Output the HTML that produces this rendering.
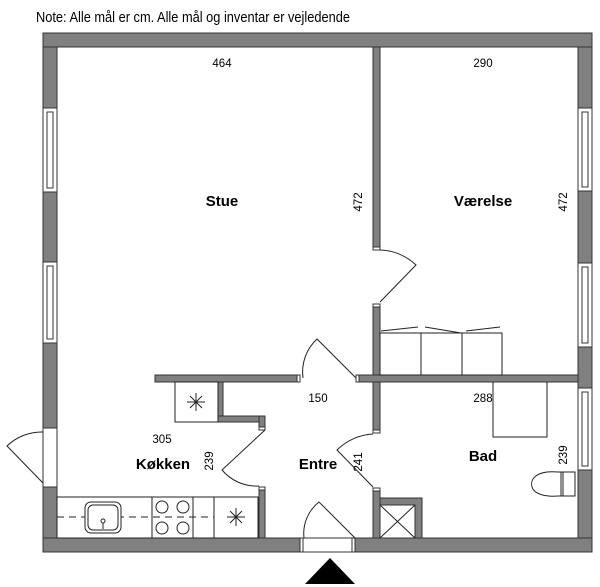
<!DOCTYPE html>
<html><head><meta charset="utf-8"><style>
html,body{margin:0;padding:0;background:#fff;}
svg{display:block;}
text{font-family:"Liberation Sans",sans-serif;fill:#000;}
</style></head><body>
<svg width="600" height="587" viewBox="0 0 600 587" xmlns="http://www.w3.org/2000/svg">
<text x="36" y="22" font-size="14.5" textLength="314" lengthAdjust="spacingAndGlyphs">Note: Alle mål er cm. Alle mål og inventar er vejledende</text>
<g fill="#808080" stroke="#333" stroke-width="1">
<rect x="43" y="33" width="549" height="14"/>
<rect x="43" y="538" width="257" height="14"/>
<rect x="355" y="538" width="237" height="14"/>
<rect x="43" y="47" width="14" height="61"/>
<rect x="43" y="192" width="14" height="70"/>
<rect x="43" y="343" width="14" height="85"/>
<rect x="43" y="487" width="14" height="51"/>
<rect x="578" y="47" width="14" height="61"/>
<rect x="578" y="191" width="14" height="72"/>
<rect x="578" y="347" width="14" height="41"/>
<rect x="578" y="470" width="14" height="68"/>
<rect x="373" y="47" width="7" height="203"/>
<rect x="373" y="304" width="7" height="129"/>
<rect x="373" y="488" width="7" height="50"/>
<rect x="356" y="375" width="222" height="7"/>
<rect x="155" y="375" width="145" height="7"/>
<rect x="218" y="382" width="5" height="34"/>
<rect x="218" y="416" width="47" height="6"/>
<rect x="259" y="416" width="6" height="14"/>
<rect x="259" y="487" width="6" height="51"/>
<rect x="380" y="498" width="42" height="40"/>
</g>
<g fill="#fff" stroke="#333" stroke-width="1">
<rect x="43" y="108" width="14" height="84"/><rect x="47" y="112" width="6" height="76"/>
<rect x="43" y="262" width="14" height="81"/><rect x="47" y="266" width="6" height="73"/>
<rect x="578" y="108" width="14" height="83"/><rect x="582" y="112" width="6" height="75"/>
<rect x="578" y="263" width="14" height="84"/><rect x="582" y="267" width="6" height="76"/>
<rect x="578" y="388" width="14" height="82"/><rect x="582" y="392" width="6" height="74"/>
<rect x="43" y="428" width="14" height="59"/>
<rect x="300" y="538" width="55" height="14"/>
<rect x="380" y="505" width="35" height="33"/>
<!-- jamb caps -->
<rect x="373" y="247" width="7" height="3"/><rect x="373" y="304" width="7" height="3"/>
<rect x="373" y="430" width="7" height="3"/><rect x="373" y="488" width="7" height="3"/>
<rect x="297" y="375" width="3" height="7"/><rect x="356" y="375" width="3" height="7"/>
<rect x="259" y="427" width="6" height="3"/><rect x="259" y="487" width="6" height="3"/>
<rect x="300" y="538" width="3" height="14"/><rect x="352" y="538" width="3" height="14"/>
</g>
<g fill="none" stroke="#222" stroke-width="1">
<line x1="380" y1="505" x2="415" y2="538"/><line x1="415" y1="505" x2="380" y2="538"/>
<path d="M43 432 A50 50 0 0 0 7 446 L43 483"/>
<path d="M380 250 A55 55 0 0 1 416 265 L380 302"/>
<path d="M356 378 L317 339 A45 45 0 0 0 303 378"/>
<path d="M373 434 A55 55 0 0 0 337 450 L373 487"/>
<path d="M265 430 L222 470 A45 45 0 0 0 259 486"/>
<path d="M355 538 L319 502 A40 40 0 0 0 304 538"/>
<rect x="380" y="333" width="122" height="42"/>
<line x1="421" y1="333" x2="421" y2="375"/><line x1="462" y1="333" x2="462" y2="375"/>
<path d="M381 331 L418 327 M425 327 L461 333 M466 331 L500 327"/>
<path d="M493 382 V437 H547 V382"/>
<path d="M575 472 H558 C535 470 530 480 532 487 C534 494 545 497 558 496 H575 Z"/>
<line x1="561" y1="472" x2="561" y2="496"/><line x1="563" y1="472" x2="563" y2="496"/>
<rect x="175" y="382" width="43" height="40"/>
<rect x="57" y="497" width="201" height="41"/>
<line x1="152" y1="497" x2="152" y2="538"/><line x1="193" y1="497" x2="193" y2="538"/><line x1="214" y1="497" x2="214" y2="538"/>
<line x1="57" y1="517" x2="214" y2="517" stroke-dasharray="7,5"/>
<rect x="85" y="502" width="36" height="31" rx="6" fill="#fff"/>
<rect x="88" y="505" width="30" height="25" rx="5" fill="#fff"/>
<circle cx="103" cy="521" r="2"/><line x1="103" y1="523" x2="103" y2="529"/><line x1="96" y1="530" x2="110" y2="530"/>
<circle cx="162" cy="507" r="6" fill="#fff"/><circle cx="183" cy="507" r="6" fill="#fff"/>
<circle cx="162" cy="528" r="6" fill="#fff"/><circle cx="183" cy="528" r="6" fill="#fff"/>
<path d="M196 393 V411 M187 402 H205 M190 396 L202 408 M202 396 L190 408"/>
<path d="M236 508 V526 M227 517 H245 M230 511 L242 523 M242 511 L230 523"/>
</g>
<polygon points="330,558 355,584 305,584" fill="#000"/>
<g font-size="11.5" text-anchor="middle">
<text x="222" y="67">464</text>
<text x="483" y="67">290</text>
<text x="318" y="402">150</text>
<text x="483" y="402">288</text>
<text x="162" y="443">305</text>
<text transform="translate(362,202) rotate(-90)">472</text>
<text transform="translate(567,202) rotate(-90)">472</text>
<text transform="translate(213,461) rotate(-90)">239</text>
<text transform="translate(362,462) rotate(-90)">241</text>
<text transform="translate(567,455) rotate(-90)">239</text>
</g>
<g font-size="15" font-weight="bold" text-anchor="middle">
<text x="222" y="206">Stue</text>
<text x="483" y="206">Værelse</text>
<text x="163" y="469">Køkken</text>
<text x="318" y="469">Entre</text>
<text x="483" y="461">Bad</text>
</g>
</svg>
</body></html>
